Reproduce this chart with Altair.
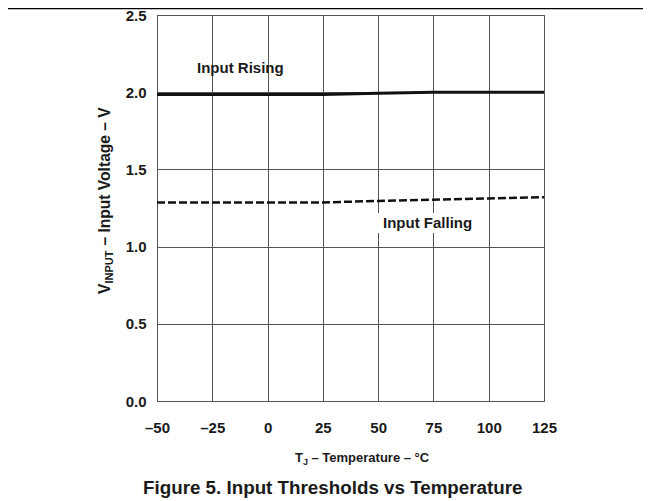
import altair as alt
import pandas as pd

# ---- data ----
temps = [-50, -25, 0, 25, 50, 75, 100, 125]
rising = [1.985, 1.985, 1.985, 1.985, 1.993, 2.0, 2.0, 2.0]
falling = [1.286, 1.286, 1.286, 1.286, 1.296, 1.304, 1.312, 1.32]
x_ticks = [-50, -25, 0, 25, 50, 75, 100, 125]
y_ticks = [0.0, 0.5, 1.0, 1.5, 2.0, 2.5]

df = pd.DataFrame({"T": temps, "rising": rising, "falling": falling})

W, H = 387, 386
FONT = "Liberation Sans"
INK = "#1a1a1a"
GRID = "#555555"

xs = alt.Scale(domain=[-50, 125], nice=False, zero=False)
ys = alt.Scale(domain=[0, 2.5], nice=False)

xaxis = alt.Axis(values=x_ticks, grid=True, gridColor=GRID, gridWidth=1, gridOpacity=1,
                 domain=False, ticks=False, tickSize=0, labelPadding=26,
                 labelBaseline="middle", labelFont=FONT, labelFontSize=15,
                 labelFontWeight="bold", labelColor=INK, labelFlush=False,
                 labelExpr="datum.value < 0 ? '\u2013' + abs(datum.value) : '' + datum.value",
                 title=None)
yaxis = alt.Axis(values=y_ticks, grid=True, gridColor=GRID, gridWidth=1, gridOpacity=1,
                 domain=False, ticks=False, tickSize=0, labelPadding=11,
                 labelFont=FONT, labelFontSize=15, labelFontWeight="bold",
                 labelColor=INK, labelFlush=False, format=".1f", title=None)

rise = alt.Chart(df).mark_line(color="#111111", strokeWidth=3).encode(
    x=alt.X("T:Q", scale=xs, axis=xaxis),
    y=alt.Y("rising:Q", scale=ys, axis=yaxis),
)
fall = alt.Chart(df).mark_line(color="#111111", strokeWidth=2.5, strokeDash=[8, 3]).encode(
    x=alt.X("T:Q", scale=xs),
    y=alt.Y("falling:Q", scale=ys),
)

one = pd.DataFrame({"k": [0]})

def txt(s, x, y, size, angle=0, align="left", baseline="alphabetic"):
    kw = dict(font=FONT, fontSize=size, fontWeight="bold", color=INK,
              align=align, baseline=baseline, text=s)
    if angle:
        kw["angle"] = angle
    return alt.Chart(one).mark_text(**kw).encode(x=alt.value(x), y=alt.value(y))

box = alt.Chart(one).mark_rect(color="white").encode(
    x=alt.value(218), x2=alt.value(321), y=alt.value(198), y2=alt.value(218))

lab_rise = txt("Input Rising", 40, 57.7, 15)
lab_fall = txt("Input Falling", 226, 213.3, 15)

# y-axis title with subscript (rotated)
yt1 = txt("V", -47, 279, 15.6, angle=270)
yt2 = txt("INPUT", -44, 268.6, 11, angle=270)
yt3 = txt("\u2013 Input Voltage \u2013 V", -47, 230.6, 15.6, angle=270)

# x-axis title with subscript
xt1 = txt("T", 138, 446.7, 13)
xt2 = txt("J", 145.9, 449.7, 9)
xt3 = txt("\u2013 Temperature \u2013 \u00b0C", 154.5, 446.7, 13)

caption = txt("Figure 5. Input Thresholds vs Temperature", -14, 479, 18.8)

top_rule = alt.Chart(one).mark_rule(color="#000000", strokeWidth=1.5).encode(
    x=alt.value(-149), x2=alt.value(486), y=alt.value(-6.5))

chart = alt.layer(
    box, rise, fall, lab_rise, lab_fall, yt1, yt2, yt3, xt1, xt2, xt3, caption, top_rule
).properties(
    width=W, height=H,
    autosize=alt.AutoSizeParams(type="none"),
    padding={"left": 149, "top": 7, "right": 99, "bottom": 97},
    background="white",
).configure_view(stroke=GRID, strokeWidth=1)

chart.save("out.html", embed_options={"renderer": "svg", "actions": False})
